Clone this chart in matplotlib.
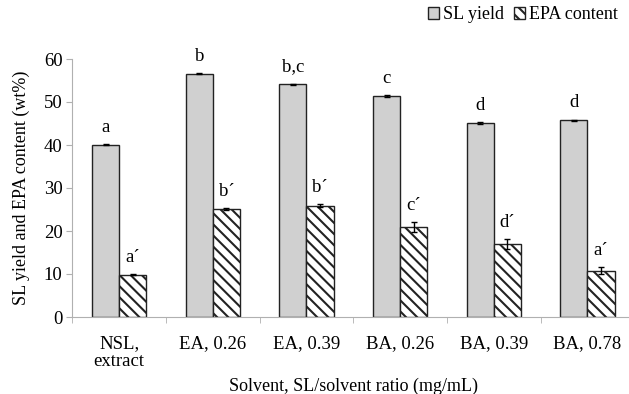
import matplotlib.pyplot as plt
import numpy as np

plt.rcParams['font.family'] = ['Liberation Serif', 'DejaVu Serif']
plt.rcParams['hatch.linewidth'] = 1.5

# -----------------------------
# data
# -----------------------------
categories = ['NSL,\nextract', 'EA, 0.26', 'EA, 0.39', 'BA, 0.26', 'BA, 0.39', 'BA, 0.78']
sl_yield = [40.1, 56.6, 54.1, 51.4, 45.1, 45.7]
sl_err = [0.2, 0.2, 0.2, 0.2, 0.2, 0.2]
epa = [9.8, 25.2, 25.9, 20.9, 17.0, 10.8]
epa_err = [0.1, 0.2, 0.4, 1.2, 1.2, 0.8]
sl_letters = ['a', 'b', 'b,c', 'c', 'd', 'd']
epa_letters = ['a\u00b4', 'b\u00b4', 'b\u00b4', 'c\u00b4', 'd\u00b4', 'a\u00b4']

fig = plt.figure(figsize=(6.29, 3.94), dpi=100)
ax = fig.add_axes([72.3 / 629, 1 - 317 / 394, 562 / 629, 258 / 394])

x = np.arange(len(categories))
w = 0.29
b1 = ax.bar(x - w / 2, sl_yield, w, color='#d0d0d0', edgecolor='#222222', linewidth=1,
            yerr=sl_err, capsize=2, error_kw=dict(elinewidth=1, ecolor='black'),
            label='SL yield')
b2 = ax.bar(x + w / 2, epa, w, color='white', edgecolor='#222222', linewidth=1,
            hatch='\\\\\\', yerr=epa_err, capsize=2,
            error_kw=dict(elinewidth=1, ecolor='black'), label='EPA content')

for i in range(len(categories)):
    ax.text(x[i] - w / 2, sl_yield[i] + sl_err[i] + 1.9, sl_letters[i],
            ha='center', va='bottom', fontsize=13.5)
    ax.text(x[i] + w / 2, epa[i] + epa_err[i] + 1.9, epa_letters[i],
            ha='center', va='bottom', fontsize=13.5)

ax.set_xlim(-0.5, len(categories) - 0.5)
ax.set_ylim(0, 60)
ax.set_yticks(range(0, 61, 10))
ax.set_xticks(x)
ax.set_xticklabels(categories, fontsize=13.5, linespacing=1.1)
ax.set_xticks(np.arange(-0.5, len(categories), 1), minor=True)
ax.tick_params(axis='x', which='major', length=0, pad=13)
ax.tick_params(axis='x', which='minor', length=4, color='#b0b0b0')
ax.tick_params(axis='y', labelsize=13.5, length=4, color='#b0b0b0', pad=3)

for s in ['top', 'right']:
    ax.spines[s].set_visible(False)
ax.spines['left'].set_color('#b0b0b0')
ax.spines['bottom'].set_color('#b0b0b0')

ax.set_ylabel('SL yield and EPA content (wt%)', fontsize=13, labelpad=10)
ax.set_xlabel('Solvent, SL/solvent ratio (mg/mL)', fontsize=13, labelpad=5)

fig.legend(handles=[b1, b2], loc='upper right', bbox_to_anchor=(1.008, 1.025), ncol=2,
           frameon=False, fontsize=13, handlelength=0.6, handleheight=0.6,
           handletextpad=0.2, columnspacing=0.6)

fig.savefig('out.png', dpi=100)
